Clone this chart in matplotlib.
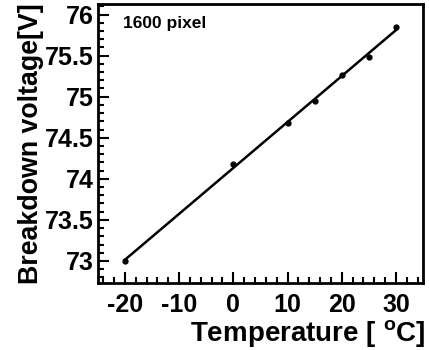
import numpy as np
import matplotlib.pyplot as plt
from matplotlib.ticker import MultipleLocator

plt.rcParams['font.family'] = ['Liberation Sans', 'DejaVu Sans']
plt.rcParams['font.weight'] = 'bold'
plt.rcParams['mathtext.default'] = 'regular'
plt.rcParams['axes.unicode_minus'] = False

# 数据：温度与击穿电压
temperature = [-20, 0, 10, 15, 20, 25, 30]
breakdown_v = [73.00, 74.18, 74.68, 74.95, 75.26, 75.48, 75.85]

fig = plt.figure(figsize=(4.29, 3.5), dpi=100)
ax = fig.add_axes([0.228, 0.191, 0.758, 0.798])

# 线性拟合
k, b = np.polyfit(temperature, breakdown_v, 1)
xf = np.array([min(temperature), max(temperature)])
ax.plot(xf, k * xf + b, color='black', lw=1.8)
ax.plot(temperature, breakdown_v, 'o', color='black', ms=3.5)

ax.set_xlim(-25, 35)
ax.set_ylim(72.73, 76.13)
ax.xaxis.set_major_locator(MultipleLocator(10))
ax.xaxis.set_minor_locator(MultipleLocator(2))
ax.yaxis.set_major_locator(MultipleLocator(0.5))
ax.yaxis.set_minor_locator(MultipleLocator(0.1))
ax.yaxis.set_major_formatter(plt.FuncFormatter(lambda v, p: f'{v:g}'))
ax.tick_params(which='both', direction='in', width=1.5, labelsize=18)
ax.tick_params(which='major', length=8)
ax.tick_params(which='minor', length=4)
ax.tick_params(axis='x', pad=7)
ax.tick_params(axis='y', pad=3)
for s in ax.spines.values():
    s.set_linewidth(2)

ax.text(0.077, 0.93, '1600 pixel', transform=ax.transAxes, fontsize=12.5,
        fontweight='bold', va='center')

ax.set_xlabel('Temperature [ $^{o}$C]', fontsize=20, fontweight='bold',
              labelpad=1, x=0.645)
ax.set_ylabel('Breakdown voltage[V]', fontsize=19.3, fontweight='bold',
              labelpad=1, y=0.5)

fig.savefig('out.png', dpi=100)
